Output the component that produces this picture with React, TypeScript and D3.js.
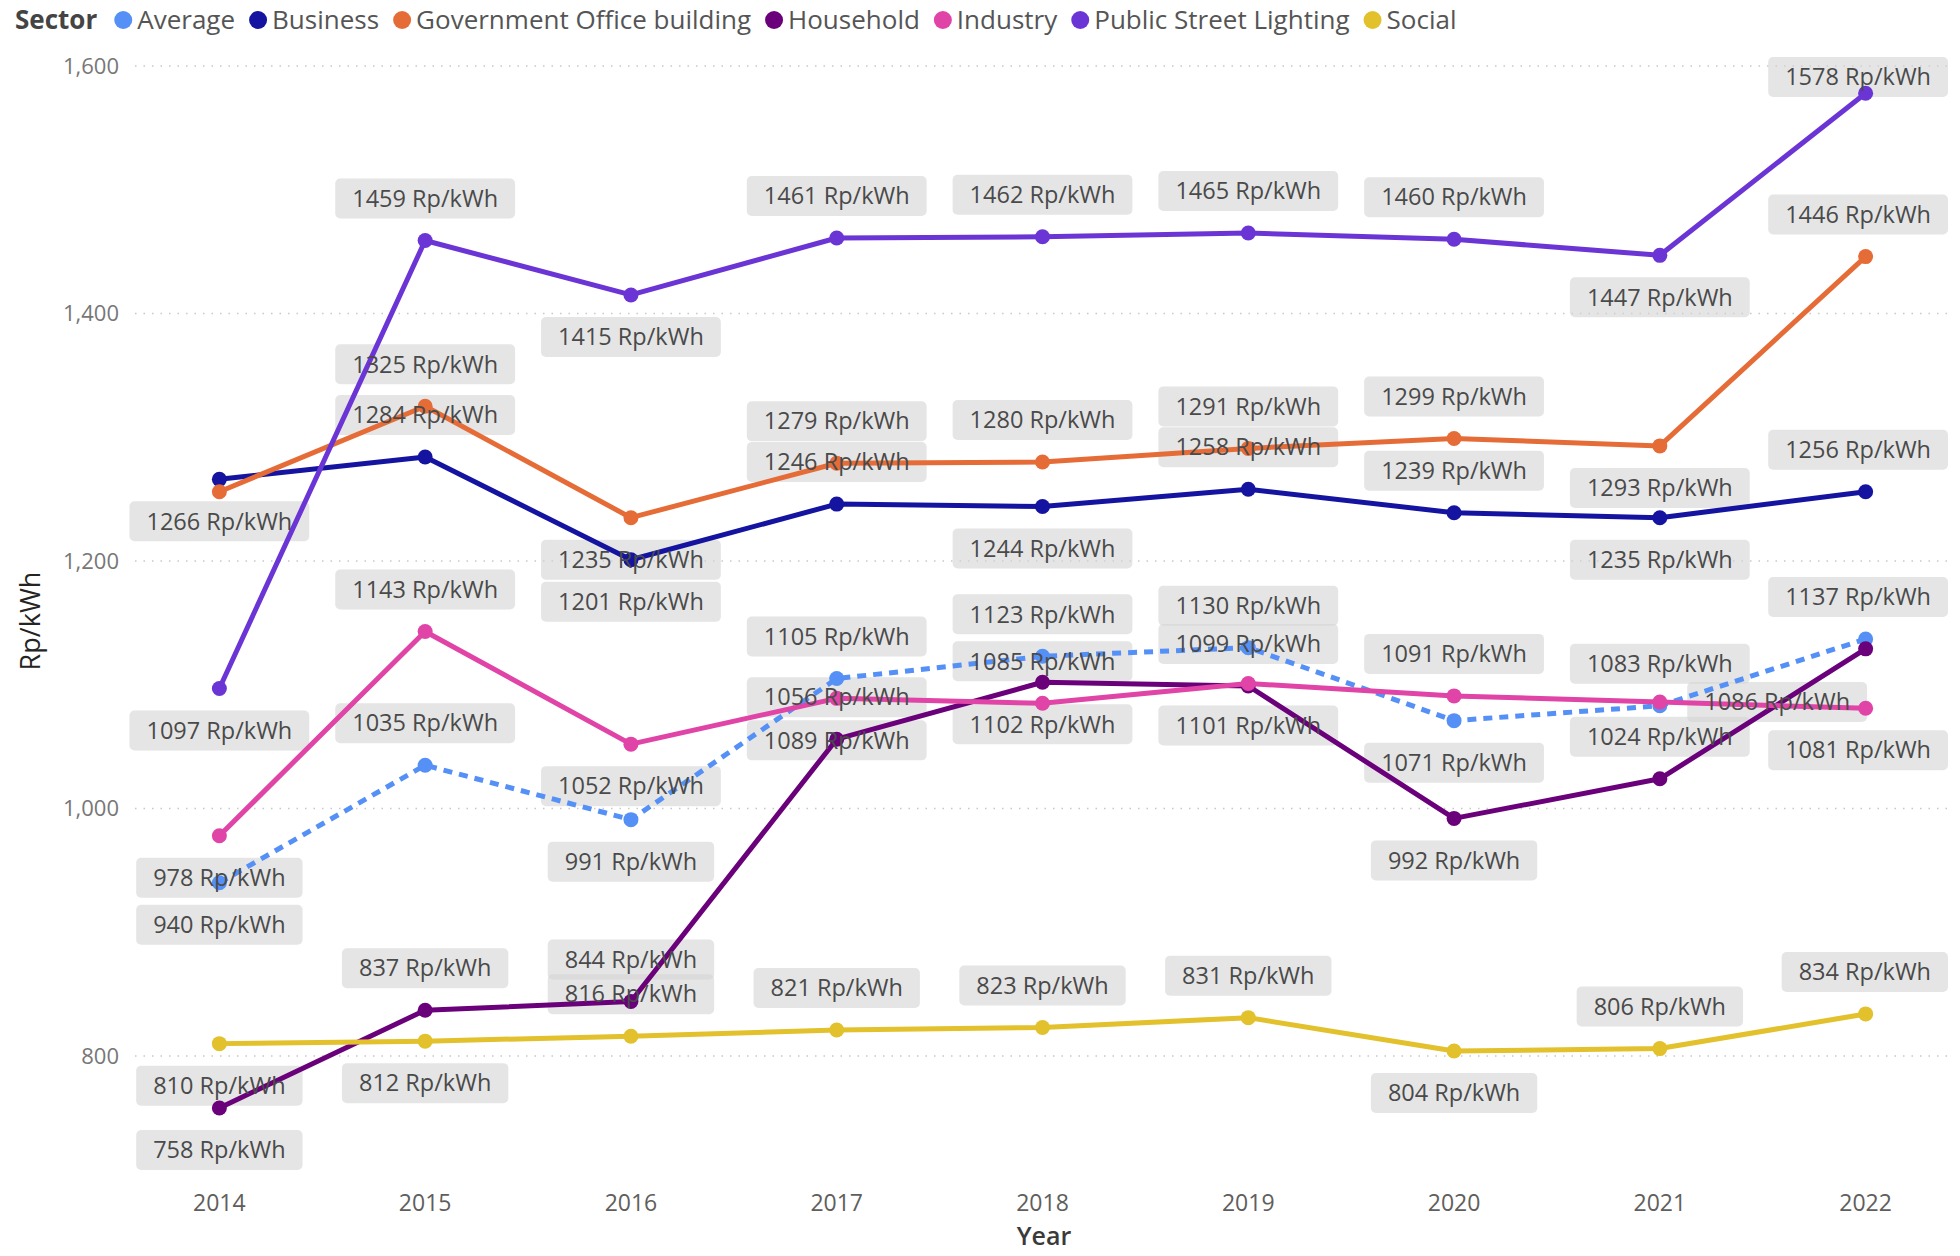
import React, { useEffect, useRef } from 'react';
import * as d3 from 'd3';

const years = [2014, 2015, 2016, 2017, 2018, 2019, 2020, 2021, 2022];
const average = [940, 1035, 991, 1105, 1123, 1130, 1071, 1083, 1137];
const business = [1266, 1284, 1201, 1246, 1244, 1258, 1239, 1235, 1256];
const government = [1256, 1325, 1235, 1279, 1280, 1291, 1299, 1293, 1446];
const household = [758, 837, 844, 1056, 1102, 1099, 992, 1024, 1129];
const industry = [978, 1143, 1052, 1089, 1085, 1101, 1091, 1086, 1081];
const streetLighting = [1097, 1459, 1415, 1461, 1462, 1465, 1460, 1447, 1578];
const social = [810, 812, 816, 821, 823, 831, 804, 806, 834];
const yTicks = [800, 1000, 1200, 1400, 1600];

// where each data label sits: a = above, b = below, r = beside (right), n = hidden
const series = [
  { name: 'Average', values: average, color: '#5590F6', dashed: true, labels: 'babaaabaa' },
  { name: 'Business', values: business, color: '#1414A0', dashed: false, labels: 'bababaaba' },
  { name: 'Government Office building', values: government, color: '#E66C37', dashed: false, labels: 'nabaaaaba' },
  { name: 'Household', values: household, color: '#6B007B', dashed: false, labels: 'baaababan' },
  { name: 'Industry', values: industry, color: '#E044A7', dashed: false, labels: 'babbabarb' },
  { name: 'Public Street Lighting', values: streetLighting, color: '#6B35D6', dashed: false, labels: 'babaaaaba' },
  { name: 'Social', values: social, color: '#E2C12C', dashed: false, labels: 'bbaaaabaa' },
];

const FONT = '"Segoe UI", "Open Sans", sans-serif';

export default function App() {
  const svgRef = useRef<SVGSVGElement | null>(null);

  useEffect(() => {
    if (!svgRef.current) return;
    document.body.style.margin = '0';

    const left = 135;
    const right = 1950;
    const top = 57;

    const x = d3.scalePoint<number>().domain(years).range([left, right]).padding(0.41);
    const y = d3.scaleLinear().domain([700, 1600]).range([1179.75, 66]);
    const step = x.step();

    const svg = d3.select(svgRef.current);
    svg.selectAll('*').remove();
    svg.style('font-family', FONT);

    // gridlines
    svg
      .append('g')
      .selectAll('line')
      .data(yTicks)
      .enter()
      .append('line')
      .attr('x1', left)
      .attr('x2', right)
      .attr('y1', (d) => y(d))
      .attr('y2', (d) => y(d))
      .attr('stroke', '#c8c8c8')
      .attr('stroke-width', 1.5)
      .attr('stroke-dasharray', '1.5 7');

    // y tick labels
    svg
      .append('g')
      .selectAll('text')
      .data(yTicks)
      .enter()
      .append('text')
      .attr('x', 119)
      .attr('y', (d) => y(d))
      .attr('dy', '0.35em')
      .attr('text-anchor', 'end')
      .attr('font-size', 22)
      .attr('fill', '#777')
      .text((d) => d3.format(',')(d));

    // x tick labels
    svg
      .append('g')
      .selectAll('text')
      .data(years)
      .enter()
      .append('text')
      .attr('x', (d) => x(d)!)
      .attr('y', 1203)
      .attr('dy', '0.35em')
      .attr('text-anchor', 'middle')
      .attr('font-size', 23)
      .attr('fill', '#605e5c')
      .text((d) => d);

    // axis titles
    svg
      .append('text')
      .attr('transform', 'translate(31,621) rotate(-90)')
      .attr('dy', '0.35em')
      .attr('text-anchor', 'middle')
      .attr('font-size', 27)
      .attr('fill', '#252423')
      .text('Rp/kWh');

    svg
      .append('text')
      .attr('x', 1044)
      .attr('y', 1236)
      .attr('dy', '0.35em')
      .attr('text-anchor', 'middle')
      .attr('font-size', 25)
      .attr('font-weight', 600)
      .attr('fill', '#3a3a3a')
      .text('Year');

    // data labels: measure, then place
    type Lab = { text: string; cx: number; cy: number; w: number };
    const labs: Lab[] = [];
    const labelSize = 23.5;
    const measure = svg.append('text').attr('font-size', labelSize);
    series.forEach((s) => {
      s.values.forEach((v, i) => {
        const mode = s.labels[i];
        if (mode === 'n') return;
        const px = x(years[i])!;
        const py = y(v);
        const text = `${v} Rp/kWh`;
        measure.text(text);
        const w = (measure.node() as SVGTextElement).getComputedTextLength() + 34;
        let cx = px;
        let cy = py;
        if (mode === 'a') cy = py - 42;
        if (mode === 'b') cy = py + 42;
        if (mode === 'r') cx = px + step * 0.57;
        cx = Math.min(cx, right - 2 - w / 2);
        cy = Math.max(cy, top + 20);
        labs.push({ text, cx, cy, w });
      });
    });
    measure.remove();

    svg
      .append('g')
      .selectAll('rect')
      .data(labs)
      .enter()
      .append('rect')
      .attr('x', (d) => d.cx - d.w / 2)
      .attr('y', (d) => d.cy - 20)
      .attr('width', (d) => d.w)
      .attr('height', 40)
      .attr('rx', 5)
      .attr('fill', '#d4d4d4')
      .attr('fill-opacity', 0.6);

    // lines and points
    const line = d3
      .line<number>()
      .x((_, i) => x(years[i])!)
      .y((d) => y(d));

    series.forEach((s) => {
      const g = svg.append('g');
      g.append('path')
        .attr('d', line(s.values)!)
        .attr('fill', 'none')
        .attr('stroke', s.color)
        .attr('stroke-width', 5)
        .attr('stroke-linejoin', 'round')
        .attr('stroke-dasharray', s.dashed ? '9 7' : null);
      g.selectAll('circle')
        .data(s.values)
        .enter()
        .append('circle')
        .attr('cx', (_, i) => x(years[i])!)
        .attr('cy', (d) => y(d))
        .attr('r', 7.5)
        .attr('fill', s.color);
    });

    svg
      .append('g')
      .selectAll('text')
      .data(labs)
      .enter()
      .append('text')
      .attr('x', (d) => d.cx)
      .attr('y', (d) => d.cy)
      .attr('dy', '0.35em')
      .attr('text-anchor', 'middle')
      .attr('font-size', labelSize)
      .attr('fill', '#4a4a4a')
      .text((d) => d.text);

    // legend
    const legend = svg.append('g').attr('transform', 'translate(0,20)');
    const title = legend
      .append('text')
      .attr('x', 15)
      .attr('dy', '0.35em')
      .attr('font-size', 26)
      .attr('font-weight', 'bold')
      .attr('fill', '#444')
      .text('Sector');
    let cursor = 15 + (title.node() as SVGTextElement).getComputedTextLength() + 26;
    series.forEach((s) => {
      legend.append('circle').attr('cx', cursor).attr('cy', 0).attr('r', 9).attr('fill', s.color);
      const t = legend
        .append('text')
        .attr('x', cursor + 14)
        .attr('dy', '0.35em')
        .attr('font-size', 26)
        .attr('fill', '#555')
        .text(s.name);
      cursor += 14 + (t.node() as SVGTextElement).getComputedTextLength() + 23;
    });
  }, []);

  return <svg ref={svgRef} width={1960} height={1256} style={{ display: 'block' }} />;
}
